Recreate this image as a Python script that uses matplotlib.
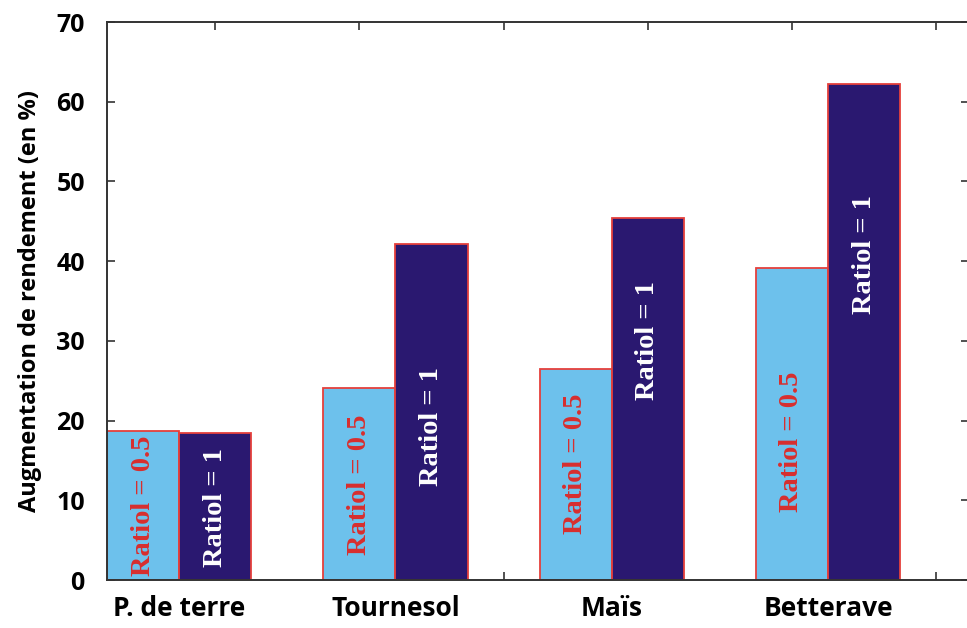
import matplotlib
matplotlib.use("Agg")
import matplotlib.pyplot as plt
import numpy as np

categories = ["P. de terre", "Tournesol", "Maïs", "Betterave"]
ratio_05 = [18.7, 24.1, 26.5, 39.1]
ratio_1 = [18.4, 42.2, 45.4, 62.2]
label_05 = "Ratiol = 0.5"
label_1 = "Ratiol = 1"
y_label = "Augmentation de rendement (en %)"
yticks = [0, 10, 20, 30, 40, 50, 60, 70]

# layout (text anchor heights inside bars)
text_y_05 = [9.3, 12.0, 14.6, 17.3]
text_y_1 = [9.1, 19.3, 30.0, 40.8]

light = "#6dc1ec"
dark = "#2a1870"
edge = "#e5403c"
red_txt = "#d82e2e"

fig = plt.figure(figsize=(9.67, 6.28), dpi=100)
ax = fig.add_axes([107/967, 1-580/628, 861.6/967, 558/628])

group = np.arange(len(categories)) * 3 + 1.0  # centre of each pair
ax.bar(group - 0.5, ratio_05, width=1.0, color=light, edgecolor=edge, linewidth=1.3, zorder=2)
ax.bar(group + 0.5, ratio_1, width=1.0, color=dark, edgecolor=edge, linewidth=1.3, zorder=2)

tfont = dict(family="Liberation Serif", weight="bold", size=20.5, rotation=90,
             ha="center", va="center", zorder=3)
for g, ty in zip(group, text_y_05):
    ax.text(g - 0.5, ty, label_05, color=red_txt, **tfont)
for g, ty in zip(group, text_y_1):
    ax.text(g + 0.5, ty, label_1, color="white", **tfont)

ax.set_xlim(0, 11.95)
ax.set_ylim(0, 70)

lab_font = "Open Sans"
ax.set_xticks(np.arange(1.5, 12, 2.0))
ax.set_xticklabels([])
ax.set_xticks(group, minor=True)
ax.set_xticklabels(categories, minor=True, fontsize=19, fontweight="bold", family=lab_font)
ax.tick_params(axis="x", which="major", direction="in", length=6, width=1.2, top=True, bottom=True, color="#333333")
ax.tick_params(axis="x", which="minor", length=0, pad=11)
ax.set_yticks(yticks)
ax.set_yticklabels([str(v) for v in yticks], fontsize=18, fontweight="bold", family=lab_font)
ax.tick_params(axis="y", direction="in", length=6, width=1.2, left=True, right=True, pad=16, color="#333333")

for s in ax.spines.values():
    s.set_linewidth(1.4)
    s.set_color("#333333")

ax.set_ylabel(y_label, fontsize=17, fontweight="bold", family=lab_font, labelpad=10)

fig.savefig("out.png", dpi=100)
